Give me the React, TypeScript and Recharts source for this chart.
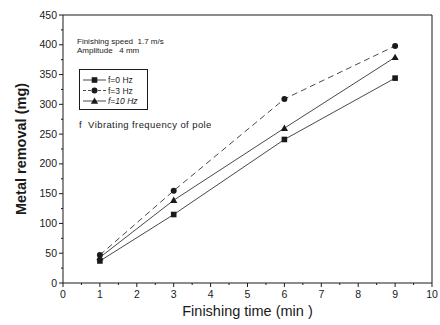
import React from 'react';
import {
  LineChart,
  Line,
  XAxis,
  YAxis,
  ReferenceLine
} from 'recharts';

// finishing time (min)
const times = [1, 3, 6, 9];
// metal removal (mg)
const f0 = [37, 115, 241, 344];
const f3 = [47, 155, 309, 398];
const f10 = [43, 139, 260, 379];

const xTicks = [0, 0.5, 1, 1.5, 2, 2.5, 3, 3.5, 4, 4.5, 5, 5.5, 6, 6.5, 7, 7.5, 8, 8.5, 9, 9.5, 10];
const yTicks = [0, 25, 50, 75, 100, 125, 150, 175, 200, 225, 250, 275, 300, 325, 350, 375, 400, 425, 450];

const data = times.map((t, i) => ({ t, f0: f0[i], f3: f3[i], f10: f10[i] }));

const FONT = '"Liberation Sans", Arial, sans-serif';
const INK = '#1a1a1a';

const Square = (props: any) => {
  const { cx, cy } = props;
  if (cx == null || cy == null) return null;
  return <rect x={cx - 2.8} y={cy - 2.8} width={5.6} height={5.6} fill={INK} />;
};
const Circle = (props: any) => {
  const { cx, cy } = props;
  if (cx == null || cy == null) return null;
  return <circle cx={cx} cy={cy} r={3} fill={INK} />;
};
const Triangle = (props: any) => {
  const { cx, cy } = props;
  if (cx == null || cy == null) return null;
  return <polygon points={`${cx},${cy - 3.6} ${cx - 3.6},${cy + 2.8} ${cx + 3.6},${cy + 2.8}`} fill={INK} />;
};

const XTick = (props: any) => {
  const { x, y, payload } = props;
  const major = Number.isInteger(payload.value);
  return (
    <g>
      <line x1={x} y1={y} x2={x} y2={y + (major ? 4 : 2)} stroke={INK} strokeWidth={1} />
      {major && (
        <text x={x} y={y + 15} textAnchor="middle" fontSize={10.5} fontFamily={FONT} fill={INK}>
          {payload.value}
        </text>
      )}
    </g>
  );
};

const YTick = (props: any) => {
  const { x, y, payload } = props;
  const major = payload.value % 50 === 0;
  return (
    <g>
      <line x1={x} y1={y} x2={x - (major ? 4 : 2)} y2={y} stroke={INK} strokeWidth={1} />
      {major && (
        <text x={x - 6} y={y + 3.5} textAnchor="end" fontSize={10.5} fontFamily={FONT} fill={INK}>
          {payload.value}
        </text>
      )}
    </g>
  );
};

const legendRows = [
  { label: 'f=0  Hz', shape: 'square', dash: undefined, italic: false },
  { label: 'f=3  Hz', shape: 'circle', dash: '3 2', italic: false },
  { label: 'f=10 Hz', shape: 'triangle', dash: undefined, italic: true }
];

const LegendBox = () => (
  <svg width={70} height={42} style={{ position: 'absolute', left: 79, top: 69 }}>
    <rect x={0.5} y={0.5} width={68} height={40} fill="none" stroke={INK} strokeWidth={1} />
    {legendRows.map((r, i) => {
      const y = 11 + i * 10.5;
      return (
        <g key={r.label}>
          <line x1={4} y1={y} x2={27} y2={y} stroke={INK} strokeWidth={0.8} strokeDasharray={r.dash} />
          {r.shape === 'square' && <Square cx={15.5} cy={y} />}
          {r.shape === 'circle' && <Circle cx={15.5} cy={y} />}
          {r.shape === 'triangle' && <Triangle cx={15.5} cy={y} />}
          <text x={29} y={y + 3} fontSize={8.5} fontFamily={FONT} fill={INK} fontStyle={r.italic ? 'italic' : 'normal'}>
            {r.label}
          </text>
        </g>
      );
    })}
  </svg>
);

const noteStyle: React.CSSProperties = {
  position: 'absolute',
  fontFamily: FONT,
  fontSize: 8,
  color: INK,
  lineHeight: '8px',
  whiteSpace: 'nowrap'
};

export default function App() {
  return (
    <div style={{ position: 'absolute', left: 0, top: 0, width: 440, height: 325, background: '#fff' }}>
      <LineChart width={440} height={325} data={data} margin={{ top: 15, right: 8, bottom: 0, left: 0 }}>
        <XAxis
          dataKey="t"
          type="number"
          domain={[0, 10]}
          ticks={xTicks}
          interval={0}
          tickSize={0}
          tickMargin={0}
          tick={<XTick />}
          height={42}
          axisLine={{ stroke: INK, strokeWidth: 1 }}
          label={{ value: 'Finishing time (min )', position: 'insideBottom', offset: 9, fontSize: 14.5, fontFamily: FONT, fill: INK }}
        />
        <YAxis
          type="number"
          domain={[0, 450]}
          ticks={yTicks}
          interval={0}
          tickSize={0}
          tickMargin={0}
          tick={<YTick />}
          width={63}
          axisLine={{ stroke: INK, strokeWidth: 1 }}
          label={{
            value: 'Metal removal (mg)',
            angle: -90,
            position: 'insideLeft',
            offset: 21,
            style: { textAnchor: 'middle' },
            fontSize: 14.5,
            fontWeight: 'bold',
            fontFamily: FONT,
            fill: INK
          }}
        />
        <ReferenceLine y={450} stroke={INK} strokeWidth={1} />
        <ReferenceLine x={10} stroke={INK} strokeWidth={1} />
        <Line dataKey="f0" stroke={INK} strokeWidth={0.8} dot={<Square />} activeDot={false} isAnimationActive={false} />
        <Line dataKey="f3" stroke={INK} strokeWidth={0.8} strokeDasharray="6 4" dot={<Circle />} activeDot={false} isAnimationActive={false} />
        <Line dataKey="f10" stroke={INK} strokeWidth={0.8} dot={<Triangle />} activeDot={false} isAnimationActive={false} />
      </LineChart>
      <LegendBox />
      <div style={{ ...noteStyle, left: 77, top: 38 }}>Finishing speed&nbsp;&nbsp;1.7 m/s</div>
      <div style={{ ...noteStyle, left: 77, top: 47 }}>Amplitude&nbsp;&nbsp;&nbsp;4 mm</div>
      <div style={{ ...noteStyle, left: 79, top: 120, fontSize: 9.5, letterSpacing: 0.4, lineHeight: '10px' }}>
        f&nbsp;&nbsp;Vibrating frequency of pole
      </div>
    </div>
  );
}
